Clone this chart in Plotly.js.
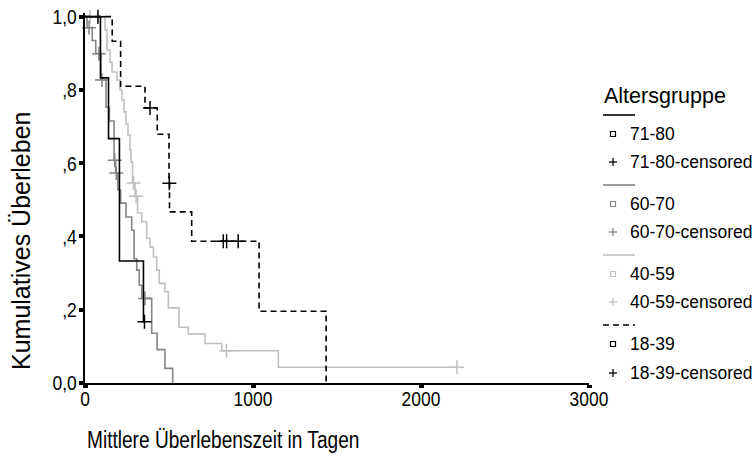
<!DOCTYPE html>
<html>
<head>
<meta charset="utf-8">
<script src="https://cdn.plot.ly/plotly-3.0.1.min.js"></script>
<style>
  html, body { margin: 0; padding: 0; background: #ffffff; }
  #chart { width: 756px; height: 461px; }
</style>
</head>
<body>
<div id="chart"></div>
<script>
// ---- data ----
const groups = ["71-80", "60-70", "40-59", "18-39"];

// 71-80: event times (days) and survival after each step
const t7180 = [0, 92, 140, 205, 348];
const s7180 = [1, 0.833, 0.667, 0.333, 0.167];
const ct7180 = [354];
const cs7180 = [0.167];

// 60-70
const t6070 = [0, 12, 43, 64, 95, 125, 145, 173, 182, 196, 212, 244, 278, 292, 308, 323, 338, 397, 429, 476, 522];
const s6070 = [1, 0.970, 0.935, 0.899, 0.827, 0.753, 0.715, 0.608, 0.573, 0.527, 0.491, 0.453, 0.417, 0.339, 0.308, 0.267, 0.231, 0.136, 0.091, 0.040, 0];
const ct6070 = [24, 83, 101, 177, 186, 357];
const cs6070 = [0.970, 0.899, 0.827, 0.608, 0.573, 0.231];

// 40-59
const t4059 = [0, 119, 131, 149, 161, 190, 208, 220, 232, 244, 256, 268, 274, 283, 298, 313, 338, 367, 387, 407, 427, 442, 476, 496, 560, 615, 714, 814, 1151];
const s4059 = [1, 0.964, 0.909, 0.876, 0.849, 0.827, 0.800, 0.773, 0.740, 0.707, 0.677, 0.636, 0.603, 0.546, 0.510, 0.464, 0.440, 0.395, 0.371, 0.344, 0.308, 0.272, 0.249, 0.205, 0.152, 0.134, 0.108, 0.088, 0.043];
const ct4059 = [30, 289, 304, 842, 2214];
const cs4059 = [1, 0.546, 0.510, 0.088, 0.043];

// 18-39
const t1839 = [0, 162, 212, 357, 430, 500, 503, 635, 1036, 1435];
const s1839 = [1, 0.933, 0.810, 0.751, 0.679, 0.545, 0.467, 0.387, 0.196, 0];
const ct1839 = [77, 387, 502, 823, 843, 912];
const cs1839 = [1, 0.751, 0.545, 0.387, 0.387, 0.387];

const xTickVals = [0, 1000, 2000, 3000];
const xTickText = ["0", "1000", "2000", "3000"];
const yTickVals = [0, 0.2, 0.4, 0.6, 0.8, 1.0];
const yTickText = ["0,0", ",2", ",4", ",6", ",8", "1,0"];

const legendTitle = "Altersgruppe";
const xTitle = "Mittlere Überlebenszeit in Tagen";
const yTitle = "Kumulatives Überleben";

// ---- styles ----
const colors = { "71-80": "#000000", "60-70": "#858585", "40-59": "#c0c0c0", "18-39": "#000000" };
const dashes = { "71-80": "solid", "60-70": "solid", "40-59": "solid", "18-39": "6px,4px" };
const FONT = "Liberation Sans, Arial, sans-serif";
const SQUEEZE = 0.83; // horizontal glyph compression seen in the reference's axis texts

const series = {
  "71-80": { t: t7180, s: s7180, ct: ct7180, cs: cs7180 },
  "60-70": { t: t6070, s: s6070, ct: ct6070, cs: cs6070 },
  "40-59": { t: t4059, s: s4059, ct: ct4059, cs: cs4059 },
  "18-39": { t: t1839, s: s1839, ct: ct1839, cs: cs1839 }
};

const traces = [];
const drawOrder = ["40-59", "60-70", "18-39", "71-80"];
drawOrder.forEach(g => {
  const d = series[g];
  const xs = d.t.slice();
  const ys = d.s.slice();
  const lastC = Math.max.apply(null, d.ct);
  if (lastC > xs[xs.length - 1]) { xs.push(lastC); ys.push(ys[ys.length - 1]); }
  traces.push({
    type: "scatter", mode: "lines", x: xs, y: ys, name: g,
    line: { shape: "hv", color: colors[g], width: 1.6, dash: dashes[g] },
    showlegend: false, hoverinfo: "skip"
  });
  traces.push({
    type: "scatter", mode: "markers", x: d.ct, y: d.cs, name: g + "-censored",
    marker: { symbol: "cross-thin", size: 10, color: colors[g], line: { color: colors[g], width: 1.5 } },
    showlegend: false, hoverinfo: "skip", cliponaxis: false
  });
});

// ---- geometry helpers (pixel -> paper) ----
const ML = 85, MR = 167, MT = 13, MB = 78, W = 756, H = 461;
const PW = W - ML - MR, PH = H - MT - MB;
const px2x = px => (px - ML) / PW;
const py2y = py => (H - MB - py) / PH;

const shapes = [];
const annotations = [];

annotations.push({ xref: "paper", yref: "paper", x: px2x(85), y: py2y(440), xanchor: "left", yanchor: "middle", align: "left",
  text: xTitle, showarrow: false, font: { family: FONT, size: 23, color: "#000" } });
annotations.push({ xref: "paper", yref: "paper", x: px2x(21), y: py2y(241), xanchor: "center", yanchor: "middle",
  text: yTitle, textangle: -90, showarrow: false, font: { family: FONT, size: 25, color: "#000" } });

// legend
annotations.push({ xref: "paper", yref: "paper", x: px2x(602), y: py2y(96), xanchor: "left", yanchor: "middle", align: "left",
  text: legendTitle, showarrow: false, font: { family: FONT, size: 21.5, color: "#000" } });

const legLineY = [115, 185, 255, 325];
const legEntryY = [134, 204, 274, 344];
const legCensY = [162, 232, 302, 373];
groups.forEach((g, i) => {
  const c = colors[g];
  shapes.push({ type: "line", xref: "paper", yref: "paper", x0: px2x(603), x1: px2x(635), y0: py2y(legLineY[i]), y1: py2y(legLineY[i]),
    line: { color: c, width: 1.6, dash: dashes[g] } });
  shapes.push({ type: "rect", xref: "paper", yref: "paper", xsizemode: "pixel", ysizemode: "pixel",
    xanchor: px2x(613), yanchor: py2y(legEntryY[i]), x0: -2.5, x1: 2.5, y0: -2.5, y1: 2.5,
    line: { color: c, width: 1.2 }, fillcolor: "#ffffff" });
  shapes.push({ type: "line", xref: "paper", yref: "paper", xsizemode: "pixel", ysizemode: "pixel",
    xanchor: px2x(613), yanchor: py2y(legCensY[i]), x0: -4, x1: 4, y0: 0, y1: 0, line: { color: c, width: 1.3 } });
  shapes.push({ type: "line", xref: "paper", yref: "paper", xsizemode: "pixel", ysizemode: "pixel",
    xanchor: px2x(613), yanchor: py2y(legCensY[i]), x0: 0, x1: 0, y0: -4, y1: 4, line: { color: c, width: 1.3 } });
  annotations.push({ xref: "paper", yref: "paper", x: px2x(628), y: py2y(legEntryY[i]), xanchor: "left", yanchor: "middle", align: "left",
    text: g, showarrow: false, font: { family: FONT, size: 17.5, color: "#000" } });
  annotations.push({ xref: "paper", yref: "paper", x: px2x(628), y: py2y(legCensY[i]), xanchor: "left", yanchor: "middle", align: "left",
    text: g + "-censored", showarrow: false, font: { family: FONT, size: 17.5, color: "#000" } });
});

const layout = {
  width: W, height: H,
  margin: { l: ML, r: MR, t: MT, b: MB, pad: 0 },
  paper_bgcolor: "#ffffff", plot_bgcolor: "#ffffff",
  showlegend: false,
  xaxis: {
    range: [0, 3000], tickvals: xTickVals, ticktext: xTickText,
    showline: true, linecolor: "#000", linewidth: 2,
    ticks: "outside", ticklen: 3, tickwidth: 5, tickcolor: "#000",
    ticklabelstandoff: -7,
    showgrid: false, zeroline: false,
    tickfont: { family: FONT, size: 21, color: "#000" }
  },
  yaxis: {
    range: [0, 1.01], tickvals: yTickVals, ticktext: yTickText,
    showline: true, linecolor: "#000", linewidth: 2,
    ticks: "outside", ticklen: 4, tickwidth: 4, tickcolor: "#000",
    ticklabelstandoff: -2,
    showgrid: false, zeroline: false,
    tickfont: { family: FONT, size: 21, color: "#000" }
  },
  shapes: shapes,
  annotations: annotations
};

const squeezable = new Set(xTickText.concat(yTickText, [xTitle]));

Plotly.newPlot("chart", traces, layout, { staticPlot: true, displayModeBar: false }).then(gd => {
  // squeeze the axis texts like the reference's narrow lettering
  gd.querySelectorAll("svg text").forEach(el => {
    if (!squeezable.has(el.textContent)) return;
    const w = el.getComputedTextLength();
    if (w > 0) {
      el.setAttribute("textLength", (w * SQUEEZE).toFixed(2));
      el.setAttribute("lengthAdjust", "spacingAndGlyphs");
    }
  });
});
</script>
</body>
</html>
